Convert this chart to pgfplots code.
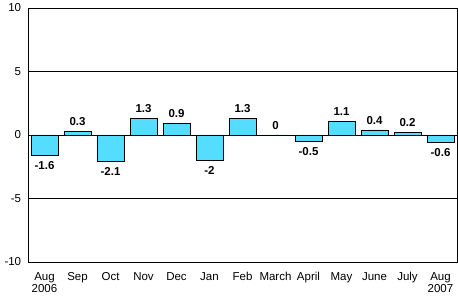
\documentclass[border=0pt]{standalone}
\usepackage{fontspec}
\setmainfont{Liberation Sans}
\usepackage{pgfplots}
\pgfplotsset{compat=1.18}
\definecolor{barc}{RGB}{85,221,255}
\begin{document}
\fontsize{11pt}{13pt}\selectfont
\begin{tikzpicture}
\begin{axis}[
 scale only axis, width=429pt, height=254pt,
 xmin=-0.5, xmax=12.5, ymin=-10, ymax=10,
 ytick={-10,-5,0,5,10}, ymajorgrids, major grid style={black, line width=0.8pt},
 xtick={0,...,12},
 xticklabels={{Aug\\2006},Sep,Oct,Nov,Dec,Jan,Feb,March,April,May,June,July,{Aug\\2007}},
 xticklabel style={align=center, anchor=north, yshift=-6.5pt},
 yticklabel style={xshift=-3pt},
 major tick length=0pt,
 axis line style={line width=0.8pt},
 /pgf/number format/assume math mode=true,
 ybar, bar width=27pt, bar shift=0pt,
 tick label style={font=\fontsize{11.5pt}{12.5pt}\selectfont},
 point meta=explicit symbolic,
 nodes near coords,
 clip=false,
]
\addplot[fill=barc, draw=black, line width=0.8pt,
  nodes near coords style={anchor=south, yshift=1.5pt, font=\bfseries\fontsize{11.5pt}{12pt}\selectfont}]
  coordinates {(1,0.3) [0.3] (3,1.3) [1.3] (4,0.9) [0.9] (6,1.3) [1.3] (7,0) [0] (9,1.1) [1.1] (10,0.4) [0.4] (11,0.2) [0.2]};
\addplot[fill=barc, draw=black, line width=0.8pt,
  nodes near coords style={anchor=north, yshift=-2pt, font=\bfseries\fontsize{11.5pt}{12pt}\selectfont}]
  coordinates {(0,-1.6) [-1.6] (2,-2.1) [-2.1] (5,-2) [-2] (8,-0.5) [-0.5] (12,-0.6) [-0.6]};
\end{axis}
\pgfresetboundingbox
\path[use as bounding box] ([xshift=-28pt,yshift=-34pt]current axis.south west) rectangle ([xshift=1pt,yshift=8pt]current axis.north east);
\end{tikzpicture}
\end{document}
